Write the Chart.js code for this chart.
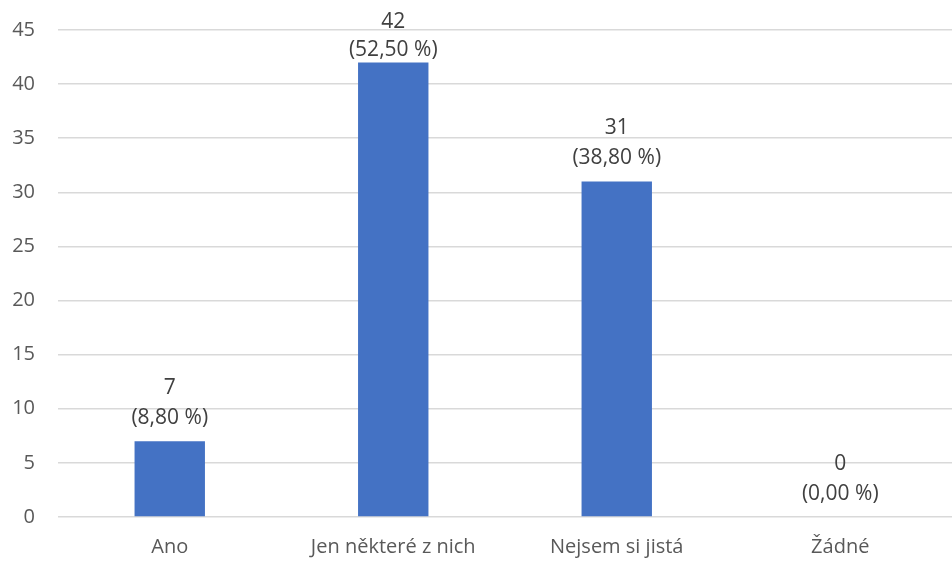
<!DOCTYPE html>
<html>
<head>
<meta charset="utf-8">
<script src="https://cdn.jsdelivr.net/npm/chart.js@4"></script>
<style>
  html, body { margin: 0; padding: 0; background: #fff; }
  #wrap { width: 952px; height: 561px; }
</style>
</head>
<body>
<div id="wrap"><canvas id="c"></canvas></div>
<script>
// Answer categories and counts
const categories = ['Ano', 'Jen některé z nich', 'Nejsem si jistá', 'Žádné'];
const counts = [7, 42, 31, 0];
const shares = ['8,80 %', '52,50 %', '38,80 %', '0,00 %'];
const yTicks = [0, 5, 10, 15, 20, 25, 30, 35, 40, 45];

const FONT = '"Open Sans", sans-serif';

// Two-line value labels above each bar: count and share.
// Labels that would leave the canvas are pushed down onto the bar.
const barLabels = {
  id: 'barLabels',
  afterDatasetsDraw(chart) {
    const ctx = chart.ctx;
    const meta = chart.getDatasetMeta(0);
    ctx.save();
    ctx.fillStyle = '#404040';
    ctx.font = '21px ' + FONT;
    ctx.textAlign = 'center';
    ctx.textBaseline = 'middle';
    meta.data.forEach((bar, i) => {
      const x = bar.x;
      const top = chart.scales.y.getPixelForValue(counts[i]);
      let second = top - 23;
      let first = second - 30;
      if (first < 22) {
        first = 22;
        second = first + 28;
      }
      ctx.fillText(String(counts[i]), x, first);
      ctx.fillText('(' + shares[i] + ')', x, second);
    });
    ctx.restore();
  }
};

new Chart(document.getElementById('c'), {
  type: 'bar',
  data: {
    labels: categories,
    datasets: [{
      data: counts,
      backgroundColor: '#4472C4',
      borderWidth: 0,
      categoryPercentage: 1,
      barPercentage: 0.315
    }]
  },
  options: {
    responsive: true,
    maintainAspectRatio: false,
    animation: false,
    layout: { padding: { top: 30, right: 0, bottom: 0, left: 0 } },
    plugins: { legend: { display: false }, tooltip: { enabled: false } },
    scales: {
      x: {
        grid: { display: false, drawTicks: false },
        border: { display: false },
        ticks: { color: '#595959', font: { family: FONT, size: 20 }, padding: 18 },
        afterFit(s) { s.height = 44; }
      },
      y: {
        min: 0,
        max: 45,
        afterBuildTicks(s) { s.ticks = yTicks.map(v => ({ value: v })); },
        grid: { color: '#d9d9d9', lineWidth: 1.5, drawTicks: false },
        border: { display: false },
        ticks: { color: '#595959', font: { family: FONT, size: 20 }, padding: 23 },
        afterFit(s) {
          s.width = 58;
          s.paddingTop = 0;
          s.paddingBottom = 0;
        }
      }
    }
  },
  plugins: [barLabels]
});
</script>
</body>
</html>
